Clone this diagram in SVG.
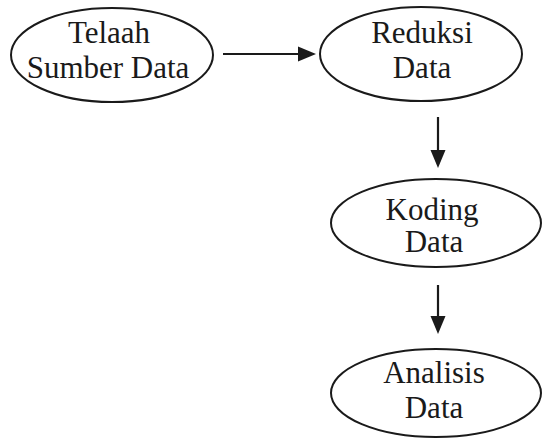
<svg xmlns="http://www.w3.org/2000/svg" width="543" height="439" viewBox="0 0 543 439">
  <style>
    .node ellipse { fill: #ffffff; stroke: #1a1a1a; stroke-width: 2; }
    .node text { font-family: "Liberation Serif", "DejaVu Serif", serif; font-size: 31px; fill: #1a1a1a; text-anchor: middle; }
    .edge { stroke: #1a1a1a; stroke-width: 2.2; fill: none; }
    .head { fill: #1a1a1a; }
  </style>
  <rect width="543" height="439" fill="#ffffff"/>

  <g id="connectors">
    <line class="edge" x1="223" y1="54" x2="300" y2="54"/>
    <polygon class="head" points="316,54 298,46.5 298,61.5"/>
    <line class="edge" x1="438" y1="117" x2="438" y2="152"/>
    <polygon class="head" points="438,168 430.5,150 445.5,150"/>
    <line class="edge" x1="438" y1="285" x2="438" y2="318"/>
    <polygon class="head" points="438,334 430.5,316 445.5,316"/>
  </g>

  <g id="telaah" class="node">
    <ellipse cx="112" cy="55" rx="101" ry="47"/>
    <text x="109" y="43">Telaah</text>
    <text x="108" y="78">Sumber Data</text>
  </g>

  <g id="reduksi" class="node">
    <ellipse cx="421" cy="54" rx="101" ry="47"/>
    <text x="422" y="43">Reduksi</text>
    <text x="422" y="78">Data</text>
  </g>

  <g id="koding" class="node">
    <ellipse cx="436" cy="223" rx="105" ry="44"/>
    <text x="432" y="220">Koding</text>
    <text x="434" y="252">Data</text>
  </g>

  <g id="analisis" class="node">
    <ellipse cx="436" cy="393" rx="105" ry="44"/>
    <text x="434" y="383">Analisis</text>
    <text x="434" y="418">Data</text>
  </g>
</svg>
